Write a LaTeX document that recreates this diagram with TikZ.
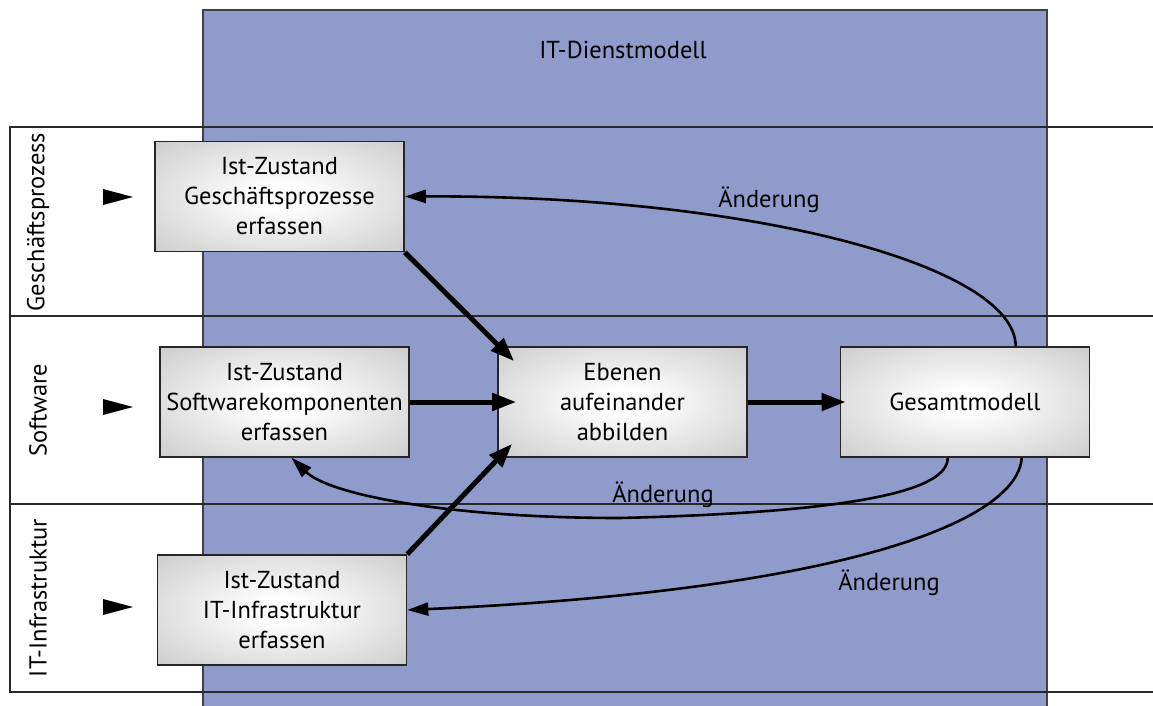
\documentclass[tikz,border=0pt]{standalone}
\usepackage{fontspec}
\setmainfont{PT Sans}
\usetikzlibrary{arrows.meta,calc}

\definecolor{svcblue}{RGB}{143,155,202}
\definecolor{laneline}{RGB}{40,40,40}
\pgfdeclareradialshading{boxshade}{\pgfpoint{0bp}{0bp}}{%
  color(0bp)=(white); color(5bp)=(white); color(36bp)=(black!20); color(50bp)=(black!20)}

\tikzset{
  procbox/.style={draw=black!85, line width=1.6pt, shading=boxshade,
    minimum width=249pt, minimum height=110pt, align=center,
    font=\fontsize{24.5}{30}\selectfont, inner sep=0pt},
  lanetext/.style={rotate=90, font=\fontsize{24.5}{28}\selectfont},
  flow/.style={line width=5pt, -{Triangle[length=24pt,width=17pt]}},
  change/.style={line width=2.6pt, -{Triangle[length=21pt,width=13pt]}},
  changelabel/.style={font=\fontsize{24.5}{28}\selectfont},
  lane/.style={draw=laneline, line width=1.8pt},
  entry/.style={fill=black}
}

\begin{document}
\begin{tikzpicture}[x=1pt,y=-1pt]
\useasboundingbox (0,0) rectangle (1153,706);
\clip (0,0) rectangle (1153,706);

% service model column
\path[fill=svcblue, draw=black!75, line width=1.6pt] (203,10) rectangle (1047,720);
\node[font=\fontsize{24.5}{28}\selectfont] (title) at (623,50) {IT-Dienstmodell};

% swim lanes
\draw[lane] (1160,127) -- (10,127) -- (10,692) -- (1160,692);
\draw[lane] (10,316) -- (1160,316);
\draw[lane] (10,504) -- (1160,504);

\node[lanetext] (l1) at (38,222) {Geschäftsprozess};
\node[lanetext] (l2) at (38,410) {Software};
\node[lanetext] (l3) at (38,598) {IT-Infrastruktur};

% entry markers
\fill[entry] (103,189) -- (133,197) -- (103,205) -- cycle;
\fill[entry] (103,399) -- (133,407) -- (103,415) -- cycle;
\fill[entry] (103,599) -- (133,607) -- (103,615) -- cycle;

% process steps
\node[procbox] (b1) at (279.5,196.5) {Ist-Zustand\\Geschäftsprozesse\\erfassen};
\node[procbox] (b2) at (284.5,402) {Ist-Zustand\\Softwarekomponenten\\erfassen};
\node[procbox] (b3) at (622.5,402) {Ebenen\\aufeinander\\abbilden};
\node[procbox] (b4) at (965,402) {Gesamtmodell};
\node[procbox] (b5) at (282,610) {Ist-Zustand\\IT-Infrastruktur\\erfassen};

% main flow
\draw[flow] (b1.south east) -- ([shift={(17,15)}]b3.north west);
\draw[flow] (b2.east) -- ([shift={(19,0)}]b3.west);
\draw[flow] (b5.north east) -- ([shift={(15,-14)}]b3.south west);
\draw[flow] (b3.east) -- ([shift={(6,0)}]b4.west);

% feedback loops
\coordinate (c1) at ([shift={(176,0)}]b4.north west);
\coordinate (c2) at ([shift={(108,0)}]b4.south west);
\coordinate (c3) at ([shift={(182,0)}]b4.south west);
\coordinate (t2) at ([shift={(7,0)}]b2.south);

\draw[change] (c1) .. controls (1015,265) and (750,195) .. (b1.east);
\draw[change] (c2) .. controls (948,490) and (860,512) .. (620,518)
                   .. controls (450,518) and (330,495) .. (t2);
\draw[change] (c3) .. controls (1018,520) and (850,590) .. (b5.east);

\node[changelabel] (a1) at (769,200) {Änderung};
\node[changelabel] (a2) at (663,495) {Änderung};
\node[changelabel] (a3) at (889,583) {Änderung};
\end{tikzpicture}
\end{document}
